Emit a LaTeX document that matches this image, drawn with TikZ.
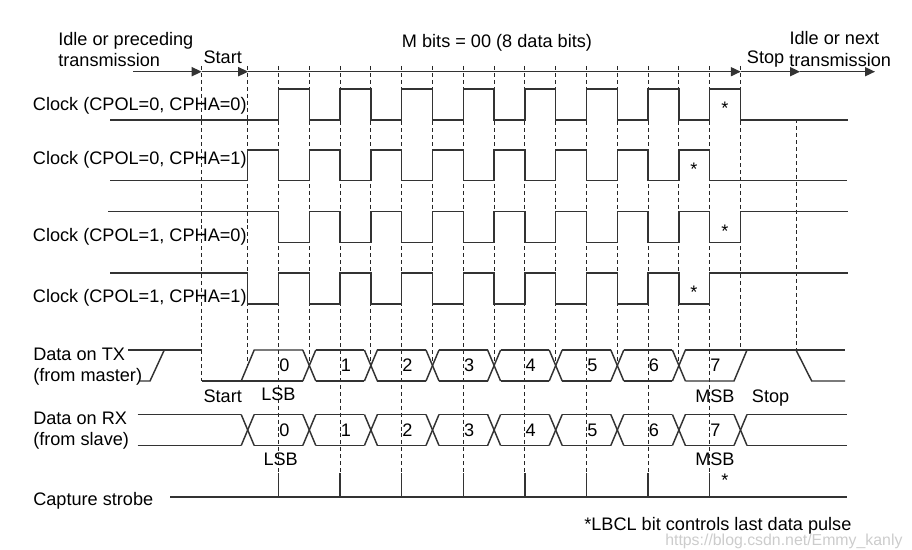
\documentclass[tikz,border=0pt]{standalone}
\usepackage{fontspec}
\setmainfont{Liberation Sans}
\usetikzlibrary{arrows.meta}
\begin{document}
\begin{tikzpicture}[x=0.75pt,y=-0.75pt,
  wave/.style={line width=1.1pt, draw=black!80, line join=miter},
  gridline/.style={line width=0.7pt, draw=black!85, dash pattern=on 3pt off 2.2pt},
  tick/.style={line width=1.1pt, draw=black!80},
  lbl/.style={anchor=base west, inner sep=0pt, font=\fontsize{13.6}{16}\selectfont, text=black},
  star/.style={anchor=base, inner sep=0pt, font=\fontsize{13.6}{16}\selectfont, text=black},
  arr/.style={line width=1.1pt, draw=black!80, -{Triangle[length=7.5pt,width=6.8pt]}},
]
\useasboundingbox (0,0) rectangle (912,549);
\def\T{247.7}\def\H{30.8}\def\W{6.5}

% ---------- top arrow line ----------
\coordinate (a0) at (133,71.7);
\coordinate (a1) at (201.7,71.7);
\coordinate (a2) at (248.2,71.7);
\coordinate (a3) at (740.8,71.7);
\coordinate (a4) at (800,71.7);
\coordinate (a5) at (875,71.7);
\draw[arr] (a0) -- (a1);
\draw[arr] (a1) -- (a2);
\draw[arr] (a2) -- (a3);
\draw[arr] (a3) -- (a4);
\draw[arr] (a4) -- (a5);

% ---------- dashed time grid ----------
\draw[gridline] (201.7,66) -- (201.7,381);
\foreach \k in {0,2,...,14} \draw[gridline] ({\T+\H*\k},66) -- ({\T+\H*\k},365);
\draw[gridline] ({\T+\H*16},66) -- ({\T+\H*16},350);
\foreach \k in {1,3,...,15} {
  \draw[gridline] ({\T+\H*\k},66) -- ({\T+\H*\k},473);
  \draw[tick] ({\T+\H*\k},473) -- ({\T+\H*\k},497);
}
\draw[gridline] (796,119.5) -- (796,350);

% ---------- clocks ----------
% CPOL=0, CPHA=0
\draw[wave] (110,120) \foreach \i in {0,...,7}{
  -- ({\T+\H*(2*\i+1)},120) -- ({\T+\H*(2*\i+1)},89)
  -- ({\T+\H*(2*\i+2)},89) -- ({\T+\H*(2*\i+2)},120) } -- (848,120);
% CPOL=0, CPHA=1
\draw[wave] (110,180.5) \foreach \i in {0,...,7}{
  -- ({\T+\H*(2*\i)},180.5) -- ({\T+\H*(2*\i)},150)
  -- ({\T+\H*(2*\i+1)},150) -- ({\T+\H*(2*\i+1)},180.5) } -- (847,180.5);
% CPOL=1, CPHA=0
\draw[wave] (108,211.5) \foreach \i in {0,...,7}{
  -- ({\T+\H*(2*\i+1)},211.5) -- ({\T+\H*(2*\i+1)},242.5)
  -- ({\T+\H*(2*\i+2)},242.5) -- ({\T+\H*(2*\i+2)},211.5) } -- (848,211.5);
% CPOL=1, CPHA=1
\draw[wave] (110,273) \foreach \i in {0,...,7}{
  -- ({\T+\H*(2*\i)},273) -- ({\T+\H*(2*\i)},304)
  -- ({\T+\H*(2*\i+1)},304) -- ({\T+\H*(2*\i+1)},273) } -- (848,273);

% ---------- Data on TX ----------
\draw[wave] (128,350) -- (201.7,350);
\draw[wave] (140,381) -- (150,381) -- (164.3,350);
\draw[wave] (201.7,381) -- ({\T+\H*2-\W},381);
\draw[wave] ({\T-\W},381) -- ({\T+\W},350) -- ({\T+\H*2-\W},350);
\foreach \k in {2,4,...,14} {
  \draw[wave] ({\T+\H*\k-\W},350) -- ({\T+\H*\k+\W},381);
  \draw[wave] ({\T+\H*\k-\W},381) -- ({\T+\H*\k+\W},350);
}
\foreach \k in {2,4,...,12} {
  \draw[wave] ({\T+\H*\k+\W},350) -- ({\T+\H*(\k+2)-\W},350);
  \draw[wave] ({\T+\H*\k+\W},381) -- ({\T+\H*(\k+2)-\W},381);
}
\draw[wave] ({\T+\H*14+\W},381) -- ({\T+\H*16-\W},381) -- ({\T+\H*16+\W},350);
\draw[wave] ({\T+\H*14+\W},350) -- (845,350);
\draw[wave] (796,350) -- (811.7,381) -- (845,381);

% ---------- Data on RX ----------
\draw[wave] (137.7,414.5) -- ({\T-\W},414.5);
\draw[wave] (137.7,445.5) -- ({\T-\W},445.5);
\foreach \k in {0,2,...,16} {
  \draw[wave] ({\T+\H*\k-\W},414.5) -- ({\T+\H*\k+\W},445.5);
  \draw[wave] ({\T+\H*\k-\W},445.5) -- ({\T+\H*\k+\W},414.5);
}
\foreach \k in {0,2,...,14} {
  \draw[wave] ({\T+\H*\k+\W},414.5) -- ({\T+\H*(\k+2)-\W},414.5);
  \draw[wave] ({\T+\H*\k+\W},445.5) -- ({\T+\H*(\k+2)-\W},445.5);
}
\draw[wave] ({\T+\H*16+\W},414.5) -- (847,414.5);
\draw[wave] ({\T+\H*16+\W},445.5) -- (847,445.5);

% ---------- Capture strobe ----------
\draw[wave] (170,497) -- (847,497);

% ---------- digits ----------
\foreach \i in {0,...,7} {
  \node[lbl] (tx\i) at ({\T+\H*(2*\i+1)+0.5},371.7) {\i};
  \node[lbl] (rx\i) at ({\T+\H*(2*\i+1)+0.5},436) {\i};
}

% ---------- asterisks ----------
\node[star] (s1) at (725,114.3) {*};
\node[star] (s2) at (694,175.3) {*};
\node[star] (s3) at (725,237.3) {*};
\node[star] (s4) at (694,298.3) {*};
\node[star] (s5) at (725,486) {*};

% ---------- labels ----------
\node[lbl] (idle1) at (58,46) {Idle or preceding};
\node[lbl] (idle2) at (58,66.7) {transmission};
\node[lbl] (start1) at (203.3,63.3) {Start};
\node[lbl] (mbits) at (401.7,47.7) {M bits = 00 (8 data bits)};
\node[lbl] (stop1) at (746.7,64) {Stop};
\node[lbl] (next1) at (789.3,45) {Idle or next};
\node[lbl] (next2) at (789,66.7) {transmission};

\node[lbl] (c1) at (32.7,110.5) {Clock (CPOL=0, CPHA=0)};
\node[lbl] (c2) at (32.7,164) {Clock (CPOL=0, CPHA=1)};
\node[lbl] (c3) at (32.7,241) {Clock (CPOL=1, CPHA=0)};
\node[lbl] (c4) at (32.7,302.7) {Clock (CPOL=1, CPHA=1)};

\node[lbl] (tx1) at (33,360.7) {Data on TX};
\node[lbl] (tx2) at (33,381) {(from master)};
\node[lbl] (rxa) at (33,424) {Data on RX};
\node[lbl] (rxb) at (33,445) {(from slave)};
\node[lbl] (cap) at (33,505) {Capture strobe};

\node[lbl] (start2) at (203.3,402.3) {Start};
\node[lbl] (lsb1) at (261,400.7) {LSB};
\node[lbl] (lsb2) at (263.3,465) {LSB};
\node[lbl] (msb1) at (695,402) {MSB};
\node[lbl] (msb2) at (695,465) {MSB};
\node[lbl] (stop2) at (751.7,402) {Stop};

\node[lbl] (note) at (584,530) {*LBCL bit controls last data pulse};
\node[anchor=base west, inner sep=0pt, font=\fontsize{11.9}{14}\selectfont, text=black!20] (wm) at (665,545) {https://blog.csdn.net/Emmy\_kanly};
\end{tikzpicture}
\end{document}
